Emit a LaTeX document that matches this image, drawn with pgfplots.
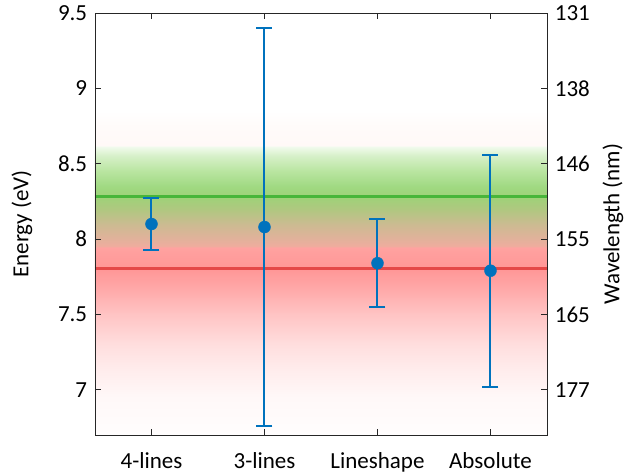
\documentclass[border=0pt]{standalone}
\usepackage{pgfplots}
\pgfplotsset{compat=1.18}
\usepackage{fontspec}
\setmainfont{Carlito}
\definecolor{mblue}{RGB}{0,114,189}
\definecolor{lgreen}{RGB}{72,182,58}
\definecolor{lred}{RGB}{228,72,72}
\definecolor{axcol}{RGB}{38,38,38}
\definecolor{s00}{RGB}{255,253,253}
\definecolor{s01}{RGB}{255,248,248}
\definecolor{s02}{RGB}{255,235,235}
\definecolor{s03}{RGB}{255,222,222}
\definecolor{s04}{RGB}{255,196,196}
\definecolor{s05}{RGB}{255,172,172}
\definecolor{s06}{RGB}{255,150,150}
\definecolor{s07}{RGB}{255,162,160}
\definecolor{s08}{RGB}{240,172,158}
\definecolor{s09}{RGB}{226,177,155}
\definecolor{s10}{RGB}{203,187,145}
\definecolor{s11}{RGB}{175,200,128}
\definecolor{s12}{RGB}{158,210,120}
\definecolor{s13}{RGB}{160,217,130}
\definecolor{s14}{RGB}{185,229,160}
\definecolor{s15}{RGB}{214,240,200}
\definecolor{s16}{RGB}{242,251,239}
\definecolor{s17}{RGB}{255,249,247}
\definecolor{s18}{RGB}{255,251,250}
\definecolor{s19}{RGB}{255,255,255}
\pgfdeclareverticalshading{bg}{100bp}{%
color(0bp)=(s00); color(25bp)=(s00); color(29.46bp)=(s01); color(33.04bp)=(s02);
color(35.71bp)=(s03); color(39.29bp)=(s04); color(41.96bp)=(s05); color(44.64bp)=(s06);
color(47.23bp)=(s07); color(47.32bp)=(s08); color(48.21bp)=(s09); color(50bp)=(s10);
color(51.79bp)=(s11); color(53.21bp)=(s12); color(54.46bp)=(s13); color(56.25bp)=(s14);
color(58.04bp)=(s15); color(59.2bp)=(s16); color(59.29bp)=(s17); color(61.61bp)=(s18);
color(63.39bp)=(s19); color(75bp)=(s19); color(100bp)=(s19)}
\begin{document}
\fontsize{23pt}{27pt}\selectfont
\begin{tikzpicture}
\pgfplotsset{
  every axis/.append style={
    scale only axis, width=452pt, height=422pt,
    xmin=0.5, xmax=4.5, ymin=6.7, ymax=9.5,
    tick align=inside, major tick length=6pt,
    axis line style={axcol, line width=0.8pt},
    every tick/.style={axcol, line width=0.8pt},
    tick label style={font=\fontsize{23pt}{27pt}\selectfont, text=black},
    label style={font=\fontsize{23pt}{27pt}\selectfont},
    /pgf/number format/assume math mode=true,
  }
}
\begin{axis}[
  axis on top,
  xtick={1,2,3,4},
  xticklabels={4-lines,3-lines,Lineshape,Absolute},
  xtick pos=both,
  ytick={7,7.5,8,8.5,9,9.5},
  yticklabels={7,7.5,8,8.5,9,9.5},
  ytick pos=left,
  xticklabel style={yshift=-10pt},
  ylabel={Energy (eV)},
  ylabel style={at={(axis description cs:-0.1615,0.5)}, anchor=center},
]
\addplot[draw=none, shade, shading=bg, forget plot] coordinates {(0.5,6.7) (4.5,6.7) (4.5,9.5) (0.5,9.5) (0.5,6.7)};
\addplot[lgreen, line width=2.5pt, forget plot] coordinates {(0.5,8.283) (4.5,8.283)};
\addplot[lred, line width=2.5pt, forget plot] coordinates {(0.5,7.805) (4.5,7.805)};
\addplot[only marks, mark=*, mark size=6pt, color=mblue,
  error bars/.cd, y dir=both, y explicit,
  error bar style={line width=2pt, mblue},
  error mark options={rotate=90, mark size=8pt, line width=2pt, mblue}]
  coordinates {
   (1,8.10) +- (0,0.17)
   (2,8.08) +- (0,1.32)
   (3,7.84) +- (0,0.29)
   (4,7.79) +- (0,0.77)
  };
\end{axis}
\begin{axis}[
  axis x line=none,
  axis y line*=right,
  ytick={9.5,9,8.5,8,7.5,7},
  yticklabels={131,138,146,155,165,177},
  ytick pos=right,
  ylabel={Wavelength (nm)},
  ylabel style={at={(axis description cs:1.146,0.5)}, anchor=center, rotate=0},
]
\addplot[draw=none, forget plot] coordinates {(1,8)};
\end{axis}
\pgfresetboundingbox
\useasboundingbox (-95pt,-40pt) rectangle (529pt,435pt);
\end{tikzpicture}
\end{document}
